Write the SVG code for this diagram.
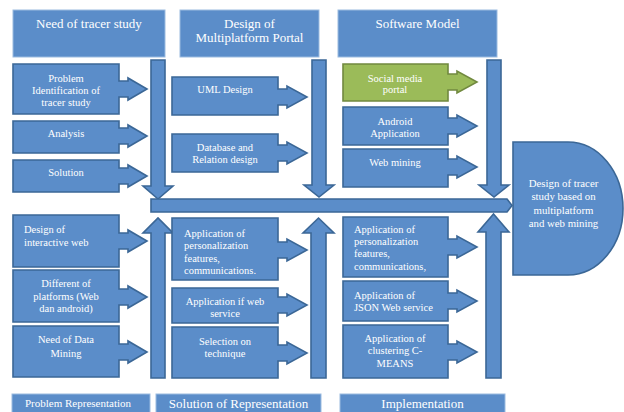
<svg xmlns="http://www.w3.org/2000/svg" width="624" height="412" viewBox="0 0 624 412">
  <style>
    .hdr { fill: #5b8dc9; stroke: #9bbbe0; stroke-width: 1; }
    .box { fill: #5b8dc9; stroke: #3b6796; stroke-width: 1.6; }
    .green { fill: #9bbb59; stroke: #71893f; stroke-width: 1.6; }
    .arw { fill: #5b8dc9; stroke: #3b6796; stroke-width: 1.6; }
    text { font-family: "Liberation Serif", "Times New Roman", serif; fill: #ffffff; }
    .t { font-size: 10.5px; }
    .c { text-anchor: middle; }
    .h { font-size: 13px; text-anchor: middle; }
    .d { font-size: 10.8px; text-anchor: middle; }
  </style>

  <rect width="624" height="412" fill="#ffffff"/>

  <!-- column headers -->
  <g id="hdr-need">
    <rect class="hdr" x="13" y="10" width="152" height="47"/>
    <text class="h" x="89" y="28">Need of tracer study</text>
  </g>
  <g id="hdr-design">
    <rect class="hdr" x="180" y="10" width="139" height="47"/>
    <text class="h" x="249.5" y="28">Design of</text>
    <text class="h" x="249.5" y="42">Multiplatform Portal</text>
  </g>
  <g id="hdr-software">
    <rect class="hdr" x="338" y="10" width="159" height="47"/>
    <text class="h" x="417.5" y="28">Software Model</text>
  </g>

  <!-- connectors: collecting arrows and main bar -->
  <g id="connectors">
    <path class="arw" d="M151 60 H165 V186 H173 L158 199 L143 186 H151 Z"/>
    <path class="arw" d="M312 60 H326 V185 H334 L319 197 L304 185 H312 Z"/>
    <path class="arw" d="M487 60 H501 V185 H509 L494 197 L479 185 H487 Z"/>
    <path class="arw" d="M151 378 H165 V233 H173 L158 218 L143 233 H151 Z"/>
    <path class="arw" d="M311 378 H326 V233 H334 L318.5 218 L303 233 H311 Z"/>
    <path class="arw" d="M486 378 H501 V232 H509 L493.5 214 L478 232 H486 Z"/>
    <path class="arw" d="M151 199 H507 L512 205.5 L507 212 H151 Z"/>
  </g>

  <!-- problem column, top -->
  <g id="n-problem">
    <path class="box" d="M13 64 H119 V81 H128 V78 L147 89 L128 100 V97 H119 V114 H13 Z"/>
    <text class="t c" x="66" y="81.5">Problem</text>
    <text class="t c" x="66" y="93.5">Identification of</text>
    <text class="t c" x="66" y="105.5">tracer study</text>
  </g>
  <g id="n-analysis">
    <path class="box" d="M13 121 H119 V128 H128 V125 L147 136 L128 147 V144 H119 V153 H13 Z"/>
    <text class="t c" x="66" y="136.5">Analysis</text>
  </g>
  <g id="n-solution">
    <path class="box" d="M13 160 H119 V168 H128 V165 L147 176 L128 187 V184 H119 V192 H13 Z"/>
    <text class="t c" x="66" y="175.5">Solution</text>
  </g>

  <!-- portal design column, top -->
  <g id="n-uml">
    <path class="box" d="M172 77 H278 V89 H287 V86 L307 97 L287 108 V105 H278 V115 H172 Z"/>
    <text class="t c" x="225" y="92.5">UML Design</text>
  </g>
  <g id="n-database">
    <path class="box" d="M172 134 H278 V145 H287 V142 L307 153 L287 164 V161 H278 V172 H172 Z"/>
    <text class="t c" x="225" y="150.5">Database and</text>
    <text class="t c" x="225" y="162.5">Relation design</text>
  </g>

  <!-- software model column, top -->
  <g id="n-social">
    <path class="green" d="M343 64 H448 V74 H457 V71 L477 82 L457 93 V90 H448 V101 H343 Z"/>
    <text class="t c" x="395" y="81.5">Social media</text>
    <text class="t c" x="395" y="93">portal</text>
  </g>
  <g id="n-android">
    <path class="box" d="M343 107 H448 V118 H457 V115 L477 126 L457 137 V134 H448 V145 H343 Z"/>
    <text class="t c" x="395" y="124.5">Android</text>
    <text class="t c" x="395" y="136.5">Application</text>
  </g>
  <g id="n-webmining">
    <path class="box" d="M343 149 H448 V159 H457 V156 L477 167 L457 178 V175 H448 V187 H343 Z"/>
    <text class="t c" x="395" y="165.5">Web mining</text>
  </g>

  <!-- problem column, bottom -->
  <g id="n-interactive">
    <path class="box" d="M13 215 H119 V233 H128 V230 L147 241 L128 252 V249 H119 V267 H13 Z"/>
    <text class="t" x="24" y="232.5">Design of</text>
    <text class="t" x="24" y="245.5">interactive web</text>
  </g>
  <g id="n-platforms">
    <path class="box" d="M13 270 H119 V289 H128 V286 L147 297 L128 308 V305 H119 V322 H13 Z"/>
    <text class="t c" x="66" y="286.5">Different of</text>
    <text class="t c" x="66" y="299.5">platforms (Web</text>
    <text class="t c" x="66" y="311.5">dan android)</text>
  </g>
  <g id="n-datamining">
    <path class="box" d="M13 326 H119 V344 H128 V341 L147 352 L128 363 V360 H119 V377 H13 Z"/>
    <text class="t c" x="66" y="342.5">Need of Data</text>
    <text class="t c" x="66" y="356.5">Mining</text>
  </g>

  <!-- solution column, bottom -->
  <g id="n-personal-a">
    <path class="box" d="M172 218 H278 V242 H287 V239 L307 250 L287 261 V258 H278 V280 H172 Z"/>
    <text class="t" x="184" y="236.5">Application of</text>
    <text class="t" x="184" y="249">personalization</text>
    <text class="t" x="184" y="261.5">features,</text>
    <text class="t" x="184" y="274">communications.</text>
  </g>
  <g id="n-webservice">
    <path class="box" d="M172 288 H278 V297 H287 V294 L307 305 L287 316 V313 H278 V323 H172 Z"/>
    <text class="t c" x="225" y="304.5">Application if web</text>
    <text class="t c" x="225" y="316.5">service</text>
  </g>
  <g id="n-technique">
    <path class="box" d="M172 327 H278 V345 H287 V342 L307 353 L287 364 V361 H278 V378 H172 Z"/>
    <text class="t c" x="225" y="344.5">Selection on</text>
    <text class="t c" x="225" y="356.5">technique</text>
  </g>

  <!-- implementation column, bottom -->
  <g id="n-personal-b">
    <path class="box" d="M343 217 H448 V239 H457 V236 L477 247 L457 258 V255 H448 V277 H343 Z"/>
    <text class="t" x="354" y="232.5">Application of</text>
    <text class="t" x="354" y="244.5">personalization</text>
    <text class="t" x="354" y="256.5">features,</text>
    <text class="t" x="354" y="269.5">communications,</text>
  </g>
  <g id="n-json">
    <path class="box" d="M343 281 H448 V293 H457 V290 L477 301 L457 312 V309 H448 V321 H343 Z"/>
    <text class="t" x="354" y="298.5">Application of</text>
    <text class="t" x="354" y="310.5">JSON Web service</text>
  </g>
  <g id="n-cmeans">
    <path class="box" d="M343 325 H448 V344 H457 V341 L477 352 L457 363 V360 H448 V378 H343 Z"/>
    <text class="t c" x="395" y="341.5">Application of</text>
    <text class="t c" x="395" y="354">clustering C-</text>
    <text class="t c" x="395" y="366.5">MEANS</text>
  </g>

  <!-- result -->
  <g id="n-result">
    <path class="box" d="M513 142 H568 A55 66.5 0 0 1 568 275 H513 Z"/>
    <text class="d" x="563.5" y="186.5">Design of tracer</text>
    <text class="d" x="563.5" y="200">study based on</text>
    <text class="d" x="563.5" y="213.5">multiplatform</text>
    <text class="d" x="563.5" y="226.5">and web mining</text>
  </g>

  <!-- row footers -->
  <g id="ftr-problem">
    <rect class="hdr" x="12" y="394" width="138" height="22"/>
    <text x="78" y="407" font-size="11" text-anchor="middle">Problem Representation</text>
  </g>
  <g id="ftr-solution">
    <rect class="hdr" x="156" y="394" width="165" height="22"/>
    <text class="h" x="238.5" y="408">Solution of Representation</text>
  </g>
  <g id="ftr-implementation">
    <rect class="hdr" x="340" y="394" width="165" height="22"/>
    <text class="h" x="422.5" y="408">Implementation</text>
  </g>
</svg>
